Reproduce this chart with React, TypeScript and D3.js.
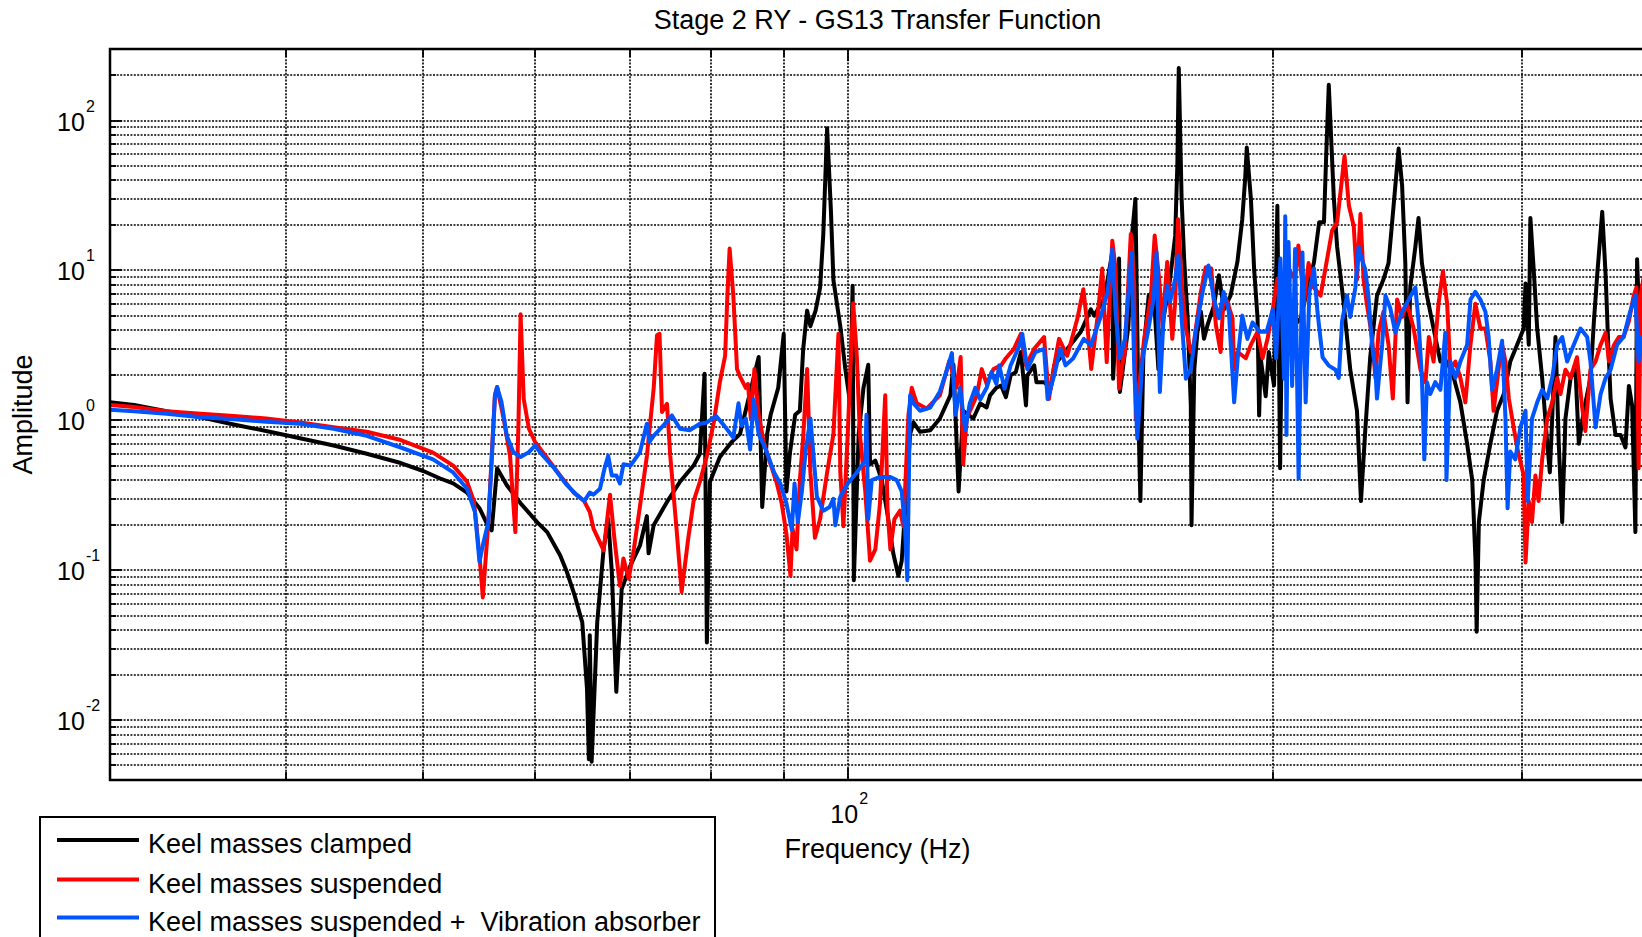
import * as d3 from "d3";
import { useEffect, useRef } from "react";

type Pt = [number, number];

const chartTitle = "Stage 2 RY - GS13 Transfer Function";
const xLabel = "Frequency (Hz)";
const yLabel = "Amplitude";
const xLimits: [number, number] = [30, 366.6];
const yLimits: [number, number] = [0.004, 300];
const xGridValues = [40, 50, 60, 70, 80, 90, 100, 200, 300];
const xDecades = [100];
const yDecades = [0.01, 0.1, 1, 10, 100];

const seriesNames = [
  "Keel masses clamped",
  "Keel masses suspended",
  "Keel masses suspended +  Vibration absorber",
];
const seriesColors = ["#000000", "#ff0000", "#0055ff"];

const clamped: Pt[] = [
  [30.0, 1.32], [31.2, 1.27], [32.9, 1.15], [34.8, 1.05], [36.7, 0.94], [38.7, 0.85],
  [40.9, 0.76], [43.2, 0.68], [45.6, 0.6], [48.2, 0.52], [50.0, 0.46], [51.4, 0.41],
  [52.5, 0.38], [53.7, 0.33], [54.8, 0.26], [55.4, 0.21], [55.9, 0.185], [56.4, 0.48],
  [57.3, 0.37], [58.6, 0.28], [60.2, 0.21], [61.2, 0.18], [62.5, 0.126], [63.2, 0.0975],
  [64.0, 0.068], [64.8, 0.045], [65.3, 0.0163], [65.5, 0.0055], [65.6, 0.037], [65.8, 0.0053],
  [66.4, 0.045], [67.1, 0.14], [67.6, 0.22], [68.0, 0.0975], [68.5, 0.0155], [69.1, 0.075],
  [70.1, 0.108], [71.2, 0.147], [72.0, 0.23], [72.2, 0.13], [72.8, 0.2], [74.4, 0.286],
  [76.0, 0.39], [77.7, 0.5], [78.5, 0.6], [79.1, 2.05], [79.4, 0.033], [79.8, 0.39],
  [81.1, 0.57], [82.7, 0.72], [83.8, 0.81], [86.4, 2.65], [86.9, 0.265], [87.6, 0.81],
  [88.1, 1.09], [89.2, 1.65], [90.0, 3.78], [90.4, 0.336], [90.9, 0.6], [91.7, 1.09],
  [92.4, 1.16], [92.9, 2.98], [93.5, 5.4], [94.0, 4.25], [94.8, 5.4], [95.5, 7.7],
  [96.0, 17.5], [96.6, 89], [97.2, 25], [97.6, 8.6], [98.7, 4.25], [99.5, 2.22],
  [100.3, 1.3], [100.7, 7.9], [100.9, 0.086], [101.7, 0.81], [102.5, 1.65], [103.3, 2.35],
  [103.6, 0.51], [104.5, 0.54], [105.6, 0.4], [106.5, 0.25], [107.6, 0.13], [108.5, 0.092],
  [109.1, 0.116], [109.7, 0.25], [110.6, 0.81], [111.2, 0.97], [112.4, 0.84], [114.3, 0.86],
  [116.1, 1.03], [118.1, 1.47], [118.7, 2.35], [119.7, 0.336], [120.6, 1.16], [122.6, 1.03],
  [124.0, 1.3], [125.3, 1.22], [126.0, 1.47], [127.3, 1.65], [128.3, 1.71], [129.3, 1.43],
  [130.3, 2.0], [131.4, 2.1], [132.5, 2.86], [133.6, 1.26], [133.9, 2.0], [135.4, 2.33],
  [135.9, 1.8], [137.6, 1.8], [139.1, 1.63], [139.9, 2.33], [142.9, 3.0], [146.1, 3.9],
  [148.5, 5.5], [149.3, 5.0], [151.8, 6.5], [153.8, 13.2], [154.0, 1.9], [155.5, 12],
  [155.7, 1.55], [157.9, 4.3], [158.8, 17], [159.7, 30], [160.6, 0.8], [161.0, 0.29],
  [161.8, 2.86], [163.2, 6.8], [164.5, 7.2], [165.8, 2.2], [167.2, 4.8], [169.0, 8.8],
  [170.4, 17], [171.0, 50], [171.4, 224], [172.2, 30], [172.9, 12], [173.9, 4.8],
  [174.8, 1.26], [175.0, 0.2], [175.8, 2.2], [176.7, 3.9], [177.7, 5.3], [178.6, 3.5],
  [179.6, 4.3], [181.5, 5.8], [183.0, 9.3], [184.5, 5.5], [186.5, 6.8], [188.6, 11.4],
  [190.1, 22], [191.0, 41], [191.5, 66], [192.8, 30], [193.8, 10.3], [194.9, 4.8],
  [195.4, 1.08], [195.9, 2.6], [197.5, 1.45], [198.5, 2.86], [200.2, 1.71], [201.3, 27],
  [202.2, 0.48], [202.9, 6.2], [204.7, 3.5], [206.9, 4.3], [209.1, 4.8], [211.4, 7.5],
  [213.7, 11.4], [215.5, 21], [217.2, 21], [218.0, 60], [218.9, 173], [220.7, 30.6],
  [221.9, 14.4], [224.3, 6.0], [226.7, 2.18], [229.2, 1.16], [230.7, 0.29], [232.3, 0.85],
  [234.2, 2.64], [236.8, 6.8], [239.3, 8.7], [241.3, 11.2], [243.3, 27], [245.3, 65],
  [246.7, 37], [248.0, 11.2], [248.9, 1.32], [250.0, 7.7], [252.1, 14.4], [253.4, 22.4],
  [254.8, 11.2], [256.9, 6.8], [259.7, 4.1], [262.6, 2.47], [265.5, 2.47], [268.4, 1.92],
  [271.3, 1.32], [274.3, 0.7], [276.6, 0.4], [278.1, 0.113], [278.6, 0.039], [279.6, 0.21],
  [281.8, 0.4], [284.9, 0.7], [288.0, 1.16], [291.2, 1.5], [294.3, 2.47], [297.6, 3.2],
  [300.8, 4.1], [301.7, 8.2], [303.3, 3.2], [304.1, 22.4], [305.8, 9.9], [307.5, 4.1],
  [310.0, 1.92], [312.6, 0.7], [313.9, 0.45], [315.1, 1.03], [316.8, 3.6], [318.5, 0.7],
  [320.3, 0.21], [322.0, 1.03], [324.7, 1.92], [327.3, 2.18], [329.1, 0.7], [331.8, 1.16],
  [335.4, 1.92], [337.3, 4.6], [339.1, 9.3], [341.9, 24.6], [343.8, 9.3], [345.1, 3.6],
  [346.6, 1.4], [349.4, 0.8], [352.3, 0.8], [355.1, 0.66], [357.1, 1.7], [359.0, 1.25],
  [360.9, 0.18], [361.9, 11.9], [363.9, 2.8], [367.1, 11.2], [375, 8],
];

const suspended: Pt[] = [
  [30.0, 1.27], [31.2, 1.23], [32.9, 1.15], [34.8, 1.11], [36.7, 1.07], [38.7, 1.03],
  [40.9, 0.97], [43.2, 0.9], [45.6, 0.84], [48.2, 0.74], [50.8, 0.61], [52.5, 0.5],
  [53.7, 0.39], [54.3, 0.29], [54.8, 0.126], [55.1, 0.066], [55.6, 0.21], [55.9, 0.58],
  [56.2, 1.47], [56.4, 1.67], [57.0, 1.03], [57.6, 0.58], [58.1, 0.18], [58.4, 0.97],
  [58.6, 5.1], [58.9, 1.39], [59.4, 0.88], [60.0, 0.72], [61.2, 0.56], [62.5, 0.43],
  [63.9, 0.33], [65.0, 0.29], [65.6, 0.245], [66.0, 0.19], [67.1, 0.136], [67.8, 0.32],
  [68.3, 0.16], [68.9, 0.079], [69.3, 0.12], [69.9, 0.088], [70.5, 0.14], [71.2, 0.27],
  [72.0, 0.58], [72.8, 1.63], [73.2, 3.7], [73.5, 3.78], [73.8, 1.14], [74.4, 1.29],
  [74.8, 0.58], [75.6, 0.18], [76.2, 0.072], [77.0, 0.16], [77.7, 0.29], [78.5, 0.39],
  [79.4, 0.58], [80.3, 0.97], [81.1, 1.8], [81.8, 2.71], [82.1, 6.8], [82.4, 14],
  [82.9, 6.8], [83.4, 2.2], [83.8, 1.97], [84.6, 1.65], [84.9, 1.75], [85.3, 1.03],
  [85.8, 2.2], [86.4, 1.09], [87.1, 0.72], [88.1, 0.51], [89.0, 0.38], [89.7, 0.28],
  [90.4, 0.175], [91.0, 0.092], [91.3, 0.19], [91.9, 0.138], [92.4, 0.4], [92.9, 0.77],
  [93.5, 2.2], [94.0, 0.45], [94.7, 0.165], [95.5, 0.22], [96.6, 0.45], [97.6, 0.81],
  [98.4, 3.78], [98.7, 0.45], [99.2, 0.197], [99.9, 0.81], [100.8, 6.05], [101.4, 2.65],
  [101.9, 0.81], [102.8, 0.336], [103.6, 0.116], [104.5, 0.138], [105.3, 0.28], [106.2, 1.47],
  [106.6, 0.25], [107.1, 0.138], [107.8, 0.22], [108.8, 0.25], [109.4, 0.197], [110.3, 1.09],
  [110.9, 1.65], [111.8, 1.3], [113.6, 1.2], [116.1, 1.47], [117.9, 2.5], [119.3, 1.65],
  [120.1, 2.65], [120.6, 0.51], [121.3, 1.03], [123.3, 1.47], [124.3, 2.2], [125.3, 1.75],
  [126.7, 2.2], [128.3, 2.33], [129.3, 2.6], [131.0, 3.0], [132.5, 3.78], [133.6, 2.33],
  [135.4, 3.0], [137.6, 3.6], [138.7, 1.39], [139.9, 2.33], [141.0, 3.5], [142.9, 2.7],
  [145.3, 4.8], [146.7, 7.5], [147.6, 4.5], [148.6, 2.2], [150.1, 4.8], [151.3, 10.3],
  [152.4, 2.45], [153.8, 15.8], [154.6, 10.3], [155.5, 1.63], [156.3, 2.33], [157.0, 2.86],
  [158.5, 17.5], [159.4, 7.9], [159.8, 1.03], [160.7, 1.71], [162.0, 3.5], [163.8, 6.8],
  [164.8, 17.1], [166.0, 8.8], [166.9, 4.3], [168.2, 11.4], [169.6, 3.5], [170.4, 6.2],
  [171.2, 22], [172.4, 7.2], [173.4, 4.1], [174.8, 2.86], [175.6, 3.2], [177.7, 7.2],
  [179.1, 10.5], [180.7, 10.3], [182.1, 4.3], [183.5, 2.86], [184.4, 6.8], [185.5, 6.2],
  [187.1, 4.8], [187.6, 2.2], [188.7, 2.86], [191.2, 2.6], [192.8, 3.2], [194.9, 3.9],
  [196.5, 2.6], [198.1, 3.5], [199.8, 5.5], [201.3, 8.8], [202.3, 7.9], [204.0, 5.8],
  [205.7, 9.7], [207.2, 8.8], [208.3, 14.7], [209.7, 7.9], [210.2, 6.0], [211.8, 11.2],
  [213.6, 7.7], [216.0, 6.8], [218.3, 11.9], [220.1, 18.5], [221.9, 21], [223.4, 37],
  [224.6, 58], [226.2, 27], [228.0, 19.7], [229.2, 8.7], [230.5, 23.8], [231.7, 8.7],
  [232.9, 6.0], [234.9, 3.6], [236.2, 1.92], [237.4, 3.85], [239.3, 5.3], [241.3, 3.2],
  [243.0, 1.4], [244.7, 6.4], [246.7, 4.9], [248.7, 6.0], [251.4, 4.1], [254.2, 2.18],
  [256.3, 1.8], [257.7, 3.6], [259.7, 2.47], [261.8, 6.0], [263.7, 9.9], [265.5, 6.0],
  [266.9, 2.18], [269.1, 2.47], [271.3, 1.92], [273.5, 1.32], [275.8, 3.2], [278.0, 6.0],
  [280.3, 4.1], [282.6, 4.1], [284.9, 2.47], [286.4, 1.16], [288.7, 2.18], [290.4, 3.2],
  [292.0, 2.47], [293.6, 1.4], [295.2, 1.03], [297.6, 0.66], [300.8, 0.43], [301.7, 0.113],
  [303.3, 0.29], [304.9, 0.21], [306.6, 0.43], [308.2, 0.29], [310.0, 0.55], [312.6, 1.03],
  [315.1, 1.32], [317.7, 1.92], [319.4, 1.5], [322.0, 2.18], [324.7, 1.92], [328.1, 2.64],
  [330.8, 1.25], [332.6, 0.85], [335.4, 2.18], [338.2, 2.47], [341.0, 3.2], [343.8, 3.85],
  [345.7, 2.47], [348.6, 3.2], [351.3, 3.6], [354.0, 3.6], [357.1, 4.6], [359.9, 6.8],
  [361.5, 7.7], [362.8, 0.48], [364.0, 6.8], [367.1, 11.2], [375, 9],
];

const absorber: Pt[] = [
  [30.0, 1.18], [31.2, 1.15], [32.9, 1.11], [34.8, 1.05], [36.7, 1.02], [38.7, 0.98],
  [40.9, 0.95], [43.2, 0.88], [45.6, 0.79], [48.2, 0.66], [50.8, 0.55], [52.5, 0.45],
  [53.7, 0.35], [54.4, 0.245], [54.8, 0.114], [55.1, 0.147], [55.6, 0.21], [55.9, 0.53],
  [56.2, 1.47], [56.4, 1.67], [56.8, 1.33], [57.3, 0.79], [57.9, 0.615], [58.6, 0.57],
  [59.4, 0.615], [60.0, 0.68], [60.6, 0.6], [61.9, 0.48], [63.2, 0.37], [64.2, 0.32],
  [65.0, 0.29], [65.6, 0.33], [66.0, 0.32], [66.7, 0.35], [67.2, 0.48], [67.6, 0.58],
  [68.0, 0.43], [68.5, 0.43], [68.9, 0.38], [69.3, 0.51], [70.1, 0.5], [71.2, 0.615],
  [72.0, 0.95], [72.3, 0.72], [72.8, 0.79], [74.0, 0.93], [75.0, 1.08], [76.0, 0.88],
  [77.2, 0.86], [78.5, 0.95], [79.4, 0.97], [80.6, 1.07], [81.7, 0.92], [82.9, 0.77],
  [83.6, 1.3], [84.0, 0.92], [84.6, 1.03], [85.2, 0.64], [85.7, 1.38], [86.4, 0.81],
  [87.4, 0.64], [88.6, 0.45], [89.5, 0.38], [90.4, 0.28], [91.2, 0.186], [91.6, 0.38],
  [92.1, 0.21], [92.7, 0.336], [93.3, 0.64], [94.0, 1.03], [94.5, 0.57], [95.0, 0.31],
  [96.0, 0.25], [97.0, 0.265], [97.6, 0.3], [97.9, 0.2], [98.7, 0.31], [99.9, 0.38],
  [101.4, 0.45], [102.8, 0.54], [103.0, 1.09], [103.3, 0.22], [103.9, 0.4], [105.3, 0.42],
  [107.1, 0.42], [108.2, 0.4], [109.1, 0.336], [109.7, 0.186], [110.1, 0.086], [110.6, 1.47],
  [111.2, 1.3], [112.4, 1.16], [114.3, 1.22], [116.1, 1.56], [117.3, 2.1], [118.4, 2.81],
  [119.1, 1.09], [120.0, 1.65], [121.0, 0.86], [121.9, 1.3], [123.0, 1.65], [124.0, 1.38],
  [125.3, 1.65], [126.3, 2.1], [127.3, 1.75], [127.9, 2.33], [129.0, 1.63], [130.3, 2.33],
  [132.2, 3.16], [132.8, 3.78], [133.9, 2.2], [135.7, 2.86], [137.6, 3.0], [138.4, 1.39],
  [139.9, 2.0], [141.3, 3.0], [142.5, 2.33], [144.3, 2.6], [146.8, 3.5], [148.5, 3.16],
  [151.0, 5.0], [152.6, 7.2], [153.8, 13.9], [154.6, 5.3], [155.7, 2.6], [157.0, 3.5],
  [158.7, 13.2], [159.4, 2.2], [160.2, 0.755], [161.6, 2.6], [163.0, 3.9], [164.5, 6.5],
  [165.3, 13.2], [166.2, 1.55], [167.2, 4.8], [168.2, 7.9], [169.0, 6.2], [170.4, 8.8],
  [171.3, 12.6], [172.2, 4.8], [173.4, 1.9], [174.8, 2.2], [176.2, 3.9], [178.2, 7.2],
  [179.9, 10.8], [181.5, 6.5], [183.0, 4.8], [184.4, 7.2], [186.0, 5.3], [187.6, 1.32],
  [188.7, 2.6], [190.1, 5.0], [191.7, 3.5], [193.3, 4.5], [195.6, 3.9], [197.8, 3.9],
  [199.8, 5.5], [200.9, 2.6], [202.3, 12], [203.5, 1.9], [203.9, 23], [204.3, 0.8],
  [205.0, 15.5], [206.2, 1.7], [207.2, 13.9], [208.4, 0.41], [209.7, 13.2], [210.8, 1.32],
  [212.1, 7.2], [213.7, 10.3], [214.9, 5.3], [216.7, 2.64], [218.9, 2.32], [221.3, 2.18],
  [222.5, 1.92], [223.7, 4.6], [225.5, 6.8], [226.7, 4.9], [228.6, 7.7], [229.8, 14.4],
  [231.0, 11.9], [232.3, 10.2], [233.5, 6.8], [234.9, 3.2], [236.2, 2.18], [236.8, 1.4],
  [238.8, 3.2], [240.1, 6.8], [242.0, 5.6], [244.0, 3.85], [246.7, 5.3], [249.4, 6.4],
  [252.1, 7.7], [253.4, 4.6], [254.8, 1.92], [255.8, 0.55], [256.9, 1.8], [258.3, 1.5],
  [260.4, 1.8], [262.6, 1.6], [264.7, 3.85], [265.2, 0.4], [266.9, 2.47], [269.1, 1.92],
  [271.3, 2.47], [274.3, 3.2], [275.8, 6.4], [278.0, 7.2], [280.3, 6.4], [282.6, 5.3],
  [284.1, 3.6], [285.7, 1.6], [288.0, 2.18], [290.4, 3.4], [292.0, 1.03], [293.0, 0.26],
  [294.3, 0.62], [296.7, 0.55], [299.2, 0.9], [301.7, 1.16], [302.8, 0.29], [304.9, 1.03],
  [307.5, 1.32], [310.0, 1.6], [312.6, 1.4], [315.1, 1.92], [317.7, 3.2], [320.3, 3.6],
  [322.9, 2.47], [326.4, 3.2], [330.0, 4.1], [333.6, 3.6], [335.4, 2.47], [338.2, 0.9],
  [341.0, 1.5], [343.8, 1.92], [346.6, 2.18], [350.3, 3.2], [354.0, 3.6], [357.8, 5.3],
  [360.8, 6.8], [362.8, 2.47], [364.6, 3.6], [367.1, 3.2], [375, 3],
];

const allSeries = [clamped, suspended, absorber];

const width = 1642;
const height = 937;
const plot = { left: 110, right: 1645, top: 49, bottom: 780 };
const font = "'Liberation Sans', Arial, Helvetica, sans-serif";
const labelSize = 27;

export default function App() {
  const svgRef = useRef<SVGSVGElement>(null);

  useEffect(() => {
    const svg = d3.select(svgRef.current);
    svg.selectAll("*").remove();

    const x = d3.scaleLog().domain(xLimits).range([plot.left, plot.right]);
    const y = d3.scaleLog().domain(yLimits).range([plot.bottom, plot.top]);

    svg
      .append("defs")
      .append("clipPath")
      .attr("id", "plot-clip")
      .append("rect")
      .attr("x", plot.left)
      .attr("y", plot.top)
      .attr("width", plot.right - plot.left)
      .attr("height", plot.bottom - plot.top);

    svg.append("rect").attr("width", width).attr("height", height).attr("fill", "#fff");

    // grid values on y: 1..9 x 10^k inside the limits
    const yGridValues: number[] = [];
    for (let e = -3; e <= 2; e++) {
      for (let k = 1; k <= 9; k++) {
        const v = k * Math.pow(10, e);
        if (v > yLimits[0] * 1.001 && v < yLimits[1] * 0.999) yGridValues.push(v);
      }
    }

    const grid = svg
      .append("g")
      .attr("stroke", "#000")
      .attr("stroke-width", 1.6)
      .attr("stroke-dasharray", "2,1.4");

    grid
      .selectAll(".hgrid")
      .data(yGridValues)
      .join("line")
      .attr("x1", plot.left)
      .attr("x2", plot.right)
      .attr("y1", (d) => Math.round(y(d)))
      .attr("y2", (d) => Math.round(y(d)));

    grid
      .selectAll(".vgrid")
      .data(xGridValues)
      .join("line")
      .attr("x1", (d) => Math.round(x(d)))
      .attr("x2", (d) => Math.round(x(d)))
      .attr("y1", plot.top)
      .attr("y2", plot.bottom);

    // ticks pointing inward
    const ticks = svg.append("g").attr("stroke", "#000").attr("stroke-width", 1.8);
    const isDecade = (v: number) => Math.abs(Math.log10(v) - Math.round(Math.log10(v))) < 1e-6;

    ticks
      .selectAll(".ytick")
      .data(yGridValues)
      .join("line")
      .attr("x1", plot.left)
      .attr("x2", (d) => plot.left + (isDecade(d) ? 12 : 6))
      .attr("y1", (d) => Math.round(y(d)))
      .attr("y2", (d) => Math.round(y(d)));

    ticks
      .selectAll(".xtickb")
      .data(xGridValues)
      .join("line")
      .attr("x1", (d) => Math.round(x(d)))
      .attr("x2", (d) => Math.round(x(d)))
      .attr("y1", plot.bottom)
      .attr("y2", (d) => plot.bottom - (isDecade(d) ? 12 : 8));

    ticks
      .selectAll(".xtickt")
      .data(xGridValues)
      .join("line")
      .attr("x1", (d) => Math.round(x(d)))
      .attr("x2", (d) => Math.round(x(d)))
      .attr("y1", plot.top)
      .attr("y2", (d) => plot.top + (isDecade(d) ? 12 : 8));

    // data lines
    const line = d3
      .line<Pt>()
      .x((d) => x(d[0]))
      .y((d) => y(d[1]));

    svg
      .append("g")
      .attr("clip-path", "url(#plot-clip)")
      .selectAll("path")
      .data(allSeries)
      .join("path")
      .attr("d", (d) => line(d))
      .attr("fill", "none")
      .attr("stroke", (_, i) => seriesColors[i])
      .attr("stroke-width", 4)
      .attr("stroke-linejoin", "round")
      .attr("stroke-linecap", "round");

    // axes frame
    svg
      .append("path")
      .attr("d", `M${plot.right},${plot.top}H${plot.left}V${plot.bottom}H${plot.right}`)
      .attr("fill", "none")
      .attr("stroke", "#000")
      .attr("stroke-width", 2.5);

    // y tick labels
    yDecades.forEach((v) => {
      const exp = Math.round(Math.log10(v));
      const t = svg.append("text").attr("font-family", font).attr("fill", "#000");
      t.append("tspan")
        .attr("x", 57)
        .attr("y", y(v) + 10)
        .attr("font-size", 25)
        .text("10");
      t.append("tspan")
        .attr("x", 86)
        .attr("y", y(v) - 9)
        .attr("font-size", 16)
        .text(String(exp));
    });

    // x tick labels
    xDecades.forEach((v) => {
      const exp = Math.round(Math.log10(v));
      const cx = x(v);
      const t = svg.append("text").attr("font-family", font).attr("fill", "#000");
      t.append("tspan")
        .attr("x", cx - 18)
        .attr("y", plot.bottom + 43)
        .attr("font-size", 25)
        .text("10");
      t.append("tspan")
        .attr("x", cx + 11)
        .attr("y", plot.bottom + 24)
        .attr("font-size", 16)
        .text(String(exp));
    });

    const midX = (plot.left + plot.right) / 2;

    svg
      .append("text")
      .attr("x", midX)
      .attr("y", 28.5)
      .attr("text-anchor", "middle")
      .attr("font-family", font)
      .attr("font-size", labelSize)
      .text(chartTitle);

    svg
      .append("text")
      .attr("x", midX)
      .attr("y", 858)
      .attr("text-anchor", "middle")
      .attr("font-family", font)
      .attr("font-size", labelSize)
      .text(xLabel);

    svg
      .append("text")
      .attr("transform", `translate(32, ${(plot.top + plot.bottom) / 2}) rotate(-90)`)
      .attr("text-anchor", "middle")
      .attr("font-family", font)
      .attr("font-size", labelSize)
      .text(yLabel);

    // legend
    const legend = svg.append("g");
    legend
      .append("rect")
      .attr("x", 40)
      .attr("y", 817)
      .attr("width", 675)
      .attr("height", 160)
      .attr("fill", "#fff")
      .attr("stroke", "#000")
      .attr("stroke-width", 2);

    const rowY = [840, 879.5, 917.5];
    seriesNames.forEach((name, i) => {
      legend
        .append("line")
        .attr("x1", 57)
        .attr("x2", 139)
        .attr("y1", rowY[i])
        .attr("y2", rowY[i])
        .attr("stroke", seriesColors[i])
        .attr("stroke-width", 4);
      legend
        .append("text")
        .attr("x", 148)
        .attr("y", rowY[i] + 13)
        .attr("font-family", font)
        .attr("font-size", labelSize)
        .style("white-space", "pre")
        .text(name);
    });
  }, []);

  return (
    <svg
      ref={svgRef}
      width={width}
      height={height}
      style={{ position: "absolute", left: 0, top: 0, display: "block" }}
    ></svg>
  );
}
